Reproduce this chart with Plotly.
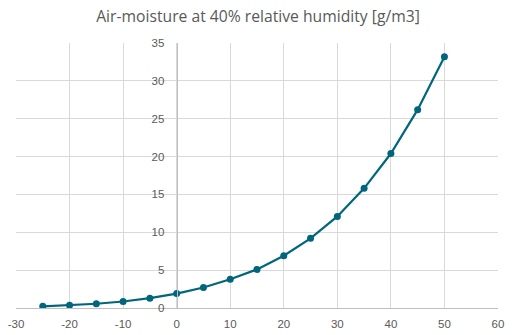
import plotly.graph_objects as go

# Temperature in °C and absolute humidity at 40 % RH in g/m3
temperature = [-25, -20, -15, -10, -5, 0, 5, 10, 15, 20, 25, 30, 35, 40, 45, 50]
moisture = [0.22, 0.35, 0.56, 0.86, 1.3, 1.9, 2.7, 3.8, 5.1, 6.9, 9.2, 12.1, 15.8, 20.4, 26.2, 33.2]

x_ticks = [-30, -20, -10, 0, 10, 20, 30, 40, 50, 60]
x_tick_labels = ["-30", "-20", "-10", "0", "10", "20", "30", "40", "50", "60"]
y_ticks = [0, 5, 10, 15, 20, 25, 30, 35]

x_range = [-30, 60]
y_range = [0, 35]

line_color = "#00667C"
grid_color = "#D9D9D9"
axis_color = "#BFBFBF"
text_color = "#595959"

fig = go.Figure(
    go.Scatter(
        x=temperature,
        y=moisture,
        mode="lines+markers",
        line=dict(color=line_color, width=2.2),
        marker=dict(color=line_color, size=7),
        hoverinfo="x+y",
    )
)

# vertical axis sits where x = 0
y_axis_pos = (0 - x_range[0]) / (x_range[1] - x_range[0])

fig.update_layout(
    width=516,
    height=335,
    margin=dict(l=16, r=18, t=43, b=27, autoexpand=False),
    paper_bgcolor="white",
    plot_bgcolor="white",
    showlegend=False,
    title=dict(
        text="Air-moisture at 40% relative humidity [g/m3]",
        x=0.5,
        xanchor="center",
        y=0.952,
        yanchor="middle",
        font=dict(family="Open Sans, sans-serif", size=15.7, color=text_color),
    ),
    xaxis=dict(
        range=x_range,
        tickmode="array",
        tickvals=x_ticks,
        ticktext=x_tick_labels,
        automargin=False,
        showgrid=True,
        gridcolor=grid_color,
        gridwidth=1,
        zeroline=False,
        showline=True,
        linecolor=axis_color,
        linewidth=1,
        ticks="",
        ticklabelstandoff=5,
        tickfont=dict(family="Liberation Sans, Arial, sans-serif", size=11.5, color=text_color),
        fixedrange=True,
    ),
    yaxis=dict(
        range=y_range,
        tickmode="array",
        tickvals=y_ticks,
        anchor="free",
        position=y_axis_pos,
        automargin=False,
        showgrid=True,
        gridcolor=grid_color,
        gridwidth=1,
        zeroline=False,
        showline=True,
        linecolor=axis_color,
        linewidth=1,
        ticks="",
        ticklabelstandoff=10,
        tickfont=dict(family="Liberation Sans, Arial, sans-serif", size=11.5, color=text_color),
        fixedrange=True,
    ),
)

fig.write_html("out.html")
